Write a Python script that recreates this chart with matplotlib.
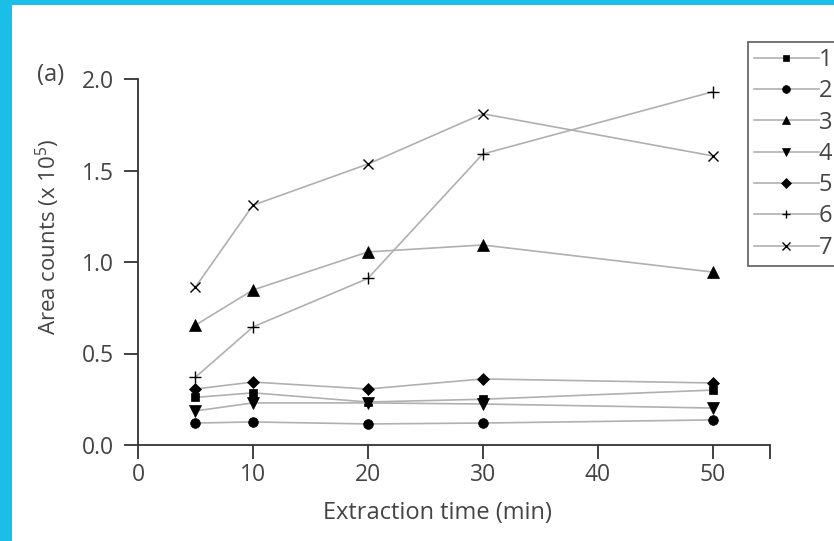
import matplotlib
matplotlib.use('Agg')
import matplotlib.pyplot as plt
from matplotlib.patches import Rectangle

plt.rcParams['font.family'] = ['Open Sans', 'DejaVu Sans']
plt.rcParams['mathtext.fontset'] = 'custom'
plt.rcParams['mathtext.rm'] = 'Open Sans'
plt.rcParams['mathtext.it'] = 'Open Sans'

# extraction times (min) and area counts (x 10^5) for each compound
times = [5, 10, 20, 30, 50]
s1 = [0.26, 0.285, 0.235, 0.25, 0.30]
s2 = [0.12, 0.126, 0.115, 0.12, 0.137]
s3 = [0.655, 0.847, 1.055, 1.093, 0.945]
s4 = [0.186, 0.23, 0.23, 0.224, 0.202]
s5 = [0.306, 0.344, 0.306, 0.361, 0.339]
s6 = [0.37, 0.645, 0.91, 1.59, 1.93]
s7 = [0.863, 1.31, 1.535, 1.81, 1.58]
series = [s1, s2, s3, s4, s5, s6, s7]
labels = ['1', '2', '3', '4', '5', '6', '7']
markers = ['s', 'o', '^', 'v', 'D', '+', 'x']
sizes = [6, 7, 8, 8, 6, 8, 7]

xticks = [0, 10, 20, 30, 40, 50, 55]
xtick_labels = ['0', '10', '20', '30', '40', '50', '']
yticks = [0.0, 0.5, 1.0, 1.5, 2.0]

text_col = '#444444'
cyan = '#1bbee6'

fig = plt.figure(figsize=(8.34, 5.41), dpi=100, facecolor=cyan)
fig.patches.append(Rectangle((12 / 834, 0), 1, 1 - 5 / 541, transform=fig.transFigure,
                             facecolor='white', edgecolor='none', zorder=-10))

ax = fig.add_axes([138 / 834, 96 / 541, 632 / 834, 366 / 541])
ax.set_facecolor('none')

for vals, lab, m, ms in zip(series, labels, markers, sizes):
    ax.plot(times, vals, color='#b0b0b0', linewidth=1.2, marker=m, markersize=ms,
            markerfacecolor='black', markeredgecolor='black',
            markeredgewidth=1.0 if m in ('+', 'x') else 0.5, label=lab, zorder=3)

ax.set_xlim(0, 55)
ax.set_ylim(0, 2.0)
ax.set_xticks(xticks)
ax.set_xticklabels(xtick_labels)
ax.set_yticks(yticks)
ax.set_yticklabels([f'{v:.1f}' for v in yticks])

for side in ('top', 'right'):
    ax.spines[side].set_visible(False)
for side in ('left', 'bottom'):
    ax.spines[side].set_color('#333333')
    ax.spines[side].set_linewidth(1.3)
ax.tick_params(direction='out', length=10, width=1.3, color='#333333',
               labelsize=16.5, labelcolor=text_col)
ax.tick_params(axis='y', pad=7)
ax.tick_params(axis='x', pad=3)

ax.set_xlabel('Extraction time (min)', fontsize=17, color=text_col, va='center')
ax.xaxis.set_label_coords((437 - 138) / 632, (445 - 513) / 366)
ax.set_ylabel('Area counts (x 10$^5$)', fontsize=16, color=text_col, va='center')
ax.yaxis.set_label_coords((48 - 138) / 632, (445 - 237) / 366)

fig.text(37 / 834, 1 - 75 / 541, '(a)', fontsize=17, color=text_col, va='center', ha='left')

leg = fig.legend(loc='upper left', bbox_to_anchor=(748 / 834, 1 - 42 / 541),
                 fontsize=17, frameon=True, fancybox=False, edgecolor='#333333',
                 handlelength=2.75, handletextpad=0.0, labelspacing=0.31,
                 borderpad=0.25, borderaxespad=0, markerscale=0.8)
leg.get_frame().set_linewidth(1.2)
for t in leg.get_texts():
    t.set_color(text_col)

fig.savefig('out.png', dpi=100, facecolor=fig.get_facecolor())
